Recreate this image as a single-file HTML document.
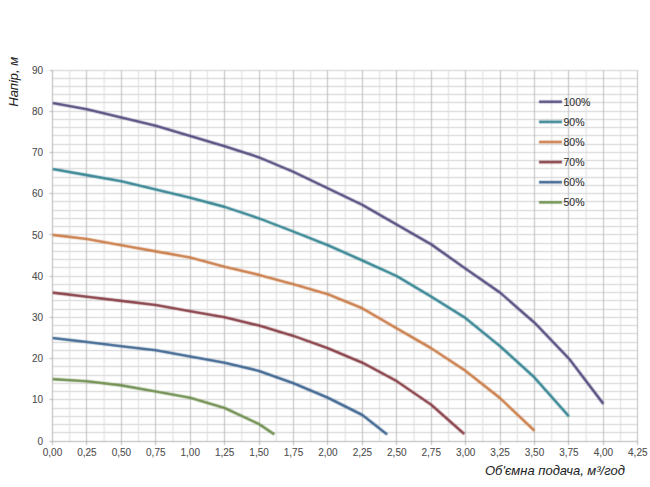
<!DOCTYPE html>
<html><head><meta charset="utf-8"><style>
html,body{margin:0;padding:0;background:#fff;width:650px;height:487px;overflow:hidden}
svg{display:block}
</style></head><body>
<svg width="650" height="487" viewBox="0 0 650 487"><defs><filter id="bl" x="0" y="0" width="650" height="487" filterUnits="userSpaceOnUse" color-interpolation-filters="sRGB"><feConvolveMatrix order="3" kernelMatrix="1 4 1 4 16 4 1 4 1" divisor="36" edgeMode="duplicate"/></filter></defs><g filter="url(#bl)"><rect width="650" height="487" fill="#fff"/><g stroke="#d0d0d0" stroke-width="1"><line x1="52.50" y1="432.50" x2="637.81" y2="432.50"/><line x1="52.50" y1="424.50" x2="637.81" y2="424.50"/><line x1="52.50" y1="416.50" x2="637.81" y2="416.50"/><line x1="52.50" y1="408.50" x2="637.81" y2="408.50"/><line x1="52.50" y1="399.50" x2="637.81" y2="399.50"/><line x1="52.50" y1="391.50" x2="637.81" y2="391.50"/><line x1="52.50" y1="383.50" x2="637.81" y2="383.50"/><line x1="52.50" y1="375.50" x2="637.81" y2="375.50"/><line x1="52.50" y1="366.50" x2="637.81" y2="366.50"/><line x1="52.50" y1="358.50" x2="637.81" y2="358.50"/><line x1="52.50" y1="350.50" x2="637.81" y2="350.50"/><line x1="52.50" y1="342.50" x2="637.81" y2="342.50"/><line x1="52.50" y1="333.50" x2="637.81" y2="333.50"/><line x1="52.50" y1="325.50" x2="637.81" y2="325.50"/><line x1="52.50" y1="317.50" x2="637.81" y2="317.50"/><line x1="52.50" y1="309.50" x2="637.81" y2="309.50"/><line x1="52.50" y1="300.50" x2="637.81" y2="300.50"/><line x1="52.50" y1="292.50" x2="637.81" y2="292.50"/><line x1="52.50" y1="284.50" x2="637.81" y2="284.50"/><line x1="52.50" y1="276.50" x2="637.81" y2="276.50"/><line x1="52.50" y1="267.50" x2="637.81" y2="267.50"/><line x1="52.50" y1="259.50" x2="637.81" y2="259.50"/><line x1="52.50" y1="251.50" x2="637.81" y2="251.50"/><line x1="52.50" y1="243.50" x2="637.81" y2="243.50"/><line x1="52.50" y1="234.50" x2="637.81" y2="234.50"/><line x1="52.50" y1="226.50" x2="637.81" y2="226.50"/><line x1="52.50" y1="218.50" x2="637.81" y2="218.50"/><line x1="52.50" y1="210.50" x2="637.81" y2="210.50"/><line x1="52.50" y1="201.50" x2="637.81" y2="201.50"/><line x1="52.50" y1="193.50" x2="637.81" y2="193.50"/><line x1="52.50" y1="185.50" x2="637.81" y2="185.50"/><line x1="52.50" y1="177.50" x2="637.81" y2="177.50"/><line x1="52.50" y1="168.50" x2="637.81" y2="168.50"/><line x1="52.50" y1="160.50" x2="637.81" y2="160.50"/><line x1="52.50" y1="152.50" x2="637.81" y2="152.50"/><line x1="52.50" y1="144.50" x2="637.81" y2="144.50"/><line x1="52.50" y1="135.50" x2="637.81" y2="135.50"/><line x1="52.50" y1="127.50" x2="637.81" y2="127.50"/><line x1="52.50" y1="119.50" x2="637.81" y2="119.50"/><line x1="52.50" y1="111.50" x2="637.81" y2="111.50"/><line x1="52.50" y1="102.50" x2="637.81" y2="102.50"/><line x1="52.50" y1="94.50" x2="637.81" y2="94.50"/><line x1="52.50" y1="86.50" x2="637.81" y2="86.50"/><line x1="52.50" y1="78.50" x2="637.81" y2="78.50"/><line x1="52.50" y1="70.50" x2="637.81" y2="70.50"/></g>
<g stroke="#dcdcdc" stroke-width="1"><line x1="69.72" y1="70.02" x2="69.72" y2="441.50"/><line x1="104.14" y1="70.02" x2="104.14" y2="441.50"/><line x1="138.57" y1="70.02" x2="138.57" y2="441.50"/><line x1="173.00" y1="70.02" x2="173.00" y2="441.50"/><line x1="207.44" y1="70.02" x2="207.44" y2="441.50"/><line x1="241.87" y1="70.02" x2="241.87" y2="441.50"/><line x1="276.29" y1="70.02" x2="276.29" y2="441.50"/><line x1="310.73" y1="70.02" x2="310.73" y2="441.50"/><line x1="345.15" y1="70.02" x2="345.15" y2="441.50"/><line x1="379.58" y1="70.02" x2="379.58" y2="441.50"/><line x1="414.01" y1="70.02" x2="414.01" y2="441.50"/><line x1="448.44" y1="70.02" x2="448.44" y2="441.50"/><line x1="482.88" y1="70.02" x2="482.88" y2="441.50"/><line x1="517.31" y1="70.02" x2="517.31" y2="441.50"/><line x1="551.74" y1="70.02" x2="551.74" y2="441.50"/><line x1="586.16" y1="70.02" x2="586.16" y2="441.50"/><line x1="620.60" y1="70.02" x2="620.60" y2="441.50"/></g>
<g stroke="#bdbdbd" stroke-width="1"><line x1="86.50" y1="70.02" x2="86.50" y2="441.50"/><line x1="121.50" y1="70.02" x2="121.50" y2="441.50"/><line x1="155.50" y1="70.02" x2="155.50" y2="441.50"/><line x1="190.50" y1="70.02" x2="190.50" y2="441.50"/><line x1="224.50" y1="70.02" x2="224.50" y2="441.50"/><line x1="259.50" y1="70.02" x2="259.50" y2="441.50"/><line x1="293.50" y1="70.02" x2="293.50" y2="441.50"/><line x1="327.50" y1="70.02" x2="327.50" y2="441.50"/><line x1="362.50" y1="70.02" x2="362.50" y2="441.50"/><line x1="396.50" y1="70.02" x2="396.50" y2="441.50"/><line x1="431.50" y1="70.02" x2="431.50" y2="441.50"/><line x1="465.50" y1="70.02" x2="465.50" y2="441.50"/><line x1="500.50" y1="70.02" x2="500.50" y2="441.50"/><line x1="534.50" y1="70.02" x2="534.50" y2="441.50"/><line x1="568.50" y1="70.02" x2="568.50" y2="441.50"/><line x1="603.50" y1="70.02" x2="603.50" y2="441.50"/><line x1="637.50" y1="70.02" x2="637.50" y2="441.50"/></g>
<g stroke="#b4b4b4" stroke-width="1"><line x1="52.5" y1="70.02" x2="52.5" y2="444.5"/><line x1="49.5" y1="441.5" x2="637.81" y2="441.5"/><line x1="49.50" y1="441.50" x2="52.50" y2="441.50"/><line x1="49.50" y1="399.50" x2="52.50" y2="399.50"/><line x1="49.50" y1="358.50" x2="52.50" y2="358.50"/><line x1="49.50" y1="317.50" x2="52.50" y2="317.50"/><line x1="49.50" y1="276.50" x2="52.50" y2="276.50"/><line x1="49.50" y1="234.50" x2="52.50" y2="234.50"/><line x1="49.50" y1="193.50" x2="52.50" y2="193.50"/><line x1="49.50" y1="152.50" x2="52.50" y2="152.50"/><line x1="49.50" y1="111.50" x2="52.50" y2="111.50"/><line x1="49.50" y1="70.50" x2="52.50" y2="70.50"/><line x1="52.50" y1="441.50" x2="52.50" y2="445.00"/><line x1="86.50" y1="441.50" x2="86.50" y2="445.00"/><line x1="121.50" y1="441.50" x2="121.50" y2="445.00"/><line x1="155.50" y1="441.50" x2="155.50" y2="445.00"/><line x1="190.50" y1="441.50" x2="190.50" y2="445.00"/><line x1="224.50" y1="441.50" x2="224.50" y2="445.00"/><line x1="259.50" y1="441.50" x2="259.50" y2="445.00"/><line x1="293.50" y1="441.50" x2="293.50" y2="445.00"/><line x1="327.50" y1="441.50" x2="327.50" y2="445.00"/><line x1="362.50" y1="441.50" x2="362.50" y2="445.00"/><line x1="396.50" y1="441.50" x2="396.50" y2="445.00"/><line x1="431.50" y1="441.50" x2="431.50" y2="445.00"/><line x1="465.50" y1="441.50" x2="465.50" y2="445.00"/><line x1="500.50" y1="441.50" x2="500.50" y2="445.00"/><line x1="534.50" y1="441.50" x2="534.50" y2="445.00"/><line x1="568.50" y1="441.50" x2="568.50" y2="445.00"/><line x1="603.50" y1="441.50" x2="603.50" y2="445.00"/><line x1="637.50" y1="441.50" x2="637.50" y2="445.00"/></g>
<clipPath id="pc"><rect x="52.5" y="67.01999999999998" width="585.31" height="373.98"/></clipPath>
<polyline clip-path="url(#pc)" fill="none" stroke="#544a7e" stroke-width="2.6" stroke-linejoin="round" points="52.50,103.00 86.93,109.18 121.36,117.42 155.79,125.67 190.22,135.97 224.65,146.28 259.08,157.41 293.51,171.83 327.94,188.32 362.37,204.81 396.80,224.59 431.23,244.38 465.66,268.70 500.09,292.61 534.52,322.70 568.95,358.56 603.38,403.90"/>
<polyline clip-path="url(#pc)" fill="none" stroke="#348492" stroke-width="2.6" stroke-linejoin="round" points="52.50,168.95 86.93,175.13 121.36,181.31 155.79,189.56 190.22,197.80 224.65,206.87 259.08,218.41 293.51,231.60 327.94,245.21 362.37,260.46 396.80,276.12 431.23,296.73 465.66,318.16 500.09,346.19 534.52,377.52 568.95,416.27"/>
<polyline clip-path="url(#pc)" fill="none" stroke="#ca7c48" stroke-width="2.6" stroke-linejoin="round" points="52.50,234.90 86.93,239.02 121.36,245.21 155.79,251.39 190.22,257.57 224.65,266.64 259.08,274.88 293.51,284.36 327.94,294.26 362.37,308.27 396.80,328.47 431.23,348.25 465.66,370.93 500.09,398.13 534.52,430.69"/>
<polyline clip-path="url(#pc)" fill="none" stroke="#863c44" stroke-width="2.6" stroke-linejoin="round" points="52.50,292.61 86.93,296.73 121.36,300.85 155.79,304.97 190.22,311.16 224.65,317.34 259.08,325.58 293.51,335.89 327.94,348.25 362.37,362.68 396.80,381.23 431.23,404.73 464.28,433.99"/>
<polyline clip-path="url(#pc)" fill="none" stroke="#3c6490" stroke-width="2.6" stroke-linejoin="round" points="52.50,337.95 86.93,342.07 121.36,346.19 155.79,350.32 190.22,356.50 224.65,362.68 259.08,370.93 293.51,383.29 327.94,397.72 362.37,415.03 387.16,434.40"/>
<polyline clip-path="url(#pc)" fill="none" stroke="#6e8e4e" stroke-width="2.6" stroke-linejoin="round" points="52.50,379.17 86.93,381.23 121.36,385.35 155.79,391.54 190.22,397.72 224.65,408.02 259.08,424.10 274.37,434.40"/>
<line x1="539" y1="101.80" x2="562" y2="101.80" stroke="#544a7e" stroke-width="2.6"/>
<line x1="539" y1="121.90" x2="562" y2="121.90" stroke="#348492" stroke-width="2.6"/>
<line x1="539" y1="142.00" x2="562" y2="142.00" stroke="#ca7c48" stroke-width="2.6"/>
<line x1="539" y1="162.10" x2="562" y2="162.10" stroke="#863c44" stroke-width="2.6"/>
<line x1="539" y1="182.20" x2="562" y2="182.20" stroke="#3c6490" stroke-width="2.6"/>
<line x1="539" y1="202.30" x2="562" y2="202.30" stroke="#6e8e4e" stroke-width="2.6"/></g><g fill="#505050" stroke="#505050" stroke-width="0.1" font-size="10" font-family="Liberation Sans, sans-serif"><text x="43.00" y="444.60" text-anchor="end">0</text><text x="43.00" y="403.38" text-anchor="end">10</text><text x="43.00" y="362.16" text-anchor="end">20</text><text x="43.00" y="320.94" text-anchor="end">30</text><text x="43.00" y="279.72" text-anchor="end">40</text><text x="43.00" y="238.50" text-anchor="end">50</text><text x="43.00" y="197.28" text-anchor="end">60</text><text x="43.00" y="156.06" text-anchor="end">70</text><text x="43.00" y="114.84" text-anchor="end">80</text><text x="43.00" y="73.62" text-anchor="end">90</text><text x="52.50" y="455.80" text-anchor="middle">0,00</text><text x="86.93" y="455.80" text-anchor="middle">0,25</text><text x="121.36" y="455.80" text-anchor="middle">0,50</text><text x="155.79" y="455.80" text-anchor="middle">0,75</text><text x="190.22" y="455.80" text-anchor="middle">1,00</text><text x="224.65" y="455.80" text-anchor="middle">1,25</text><text x="259.08" y="455.80" text-anchor="middle">1,50</text><text x="293.51" y="455.80" text-anchor="middle">1,75</text><text x="327.94" y="455.80" text-anchor="middle">2,00</text><text x="362.37" y="455.80" text-anchor="middle">2,25</text><text x="396.80" y="455.80" text-anchor="middle">2,50</text><text x="431.23" y="455.80" text-anchor="middle">2,75</text><text x="465.66" y="455.80" text-anchor="middle">3,00</text><text x="500.09" y="455.80" text-anchor="middle">3,25</text><text x="534.52" y="455.80" text-anchor="middle">3,50</text><text x="568.95" y="455.80" text-anchor="middle">3,75</text><text x="603.38" y="455.80" text-anchor="middle">4,00</text><text x="637.81" y="455.80" text-anchor="middle">4,25</text></g>
<g font-size="10.5" font-family="Liberation Sans, sans-serif"><text x="563.5" y="105.60" fill="#303030" stroke="#303030" stroke-width="0.1">100%</text><text x="563.5" y="125.70" fill="#303030" stroke="#303030" stroke-width="0.1">90%</text><text x="563.5" y="145.80" fill="#303030" stroke="#303030" stroke-width="0.1">80%</text><text x="563.5" y="165.90" fill="#303030" stroke="#303030" stroke-width="0.1">70%</text><text x="563.5" y="186.00" fill="#303030" stroke="#303030" stroke-width="0.1">60%</text><text x="563.5" y="206.10" fill="#303030" stroke="#303030" stroke-width="0.1">50%</text></g>
<text x="485" y="475" font-size="13" font-style="italic" fill="#1e1e1e" stroke="#1e1e1e" stroke-width="0.05" font-family="Liberation Sans, sans-serif">Об'ємна подача, м³/год</text>
<text transform="translate(17.5,106.7) rotate(-90)" x="0" y="0" font-size="13" font-style="italic" fill="#1e1e1e" stroke="#1e1e1e" stroke-width="0.05" font-family="Liberation Sans, sans-serif">Напір, м</text></svg>
</body></html>
